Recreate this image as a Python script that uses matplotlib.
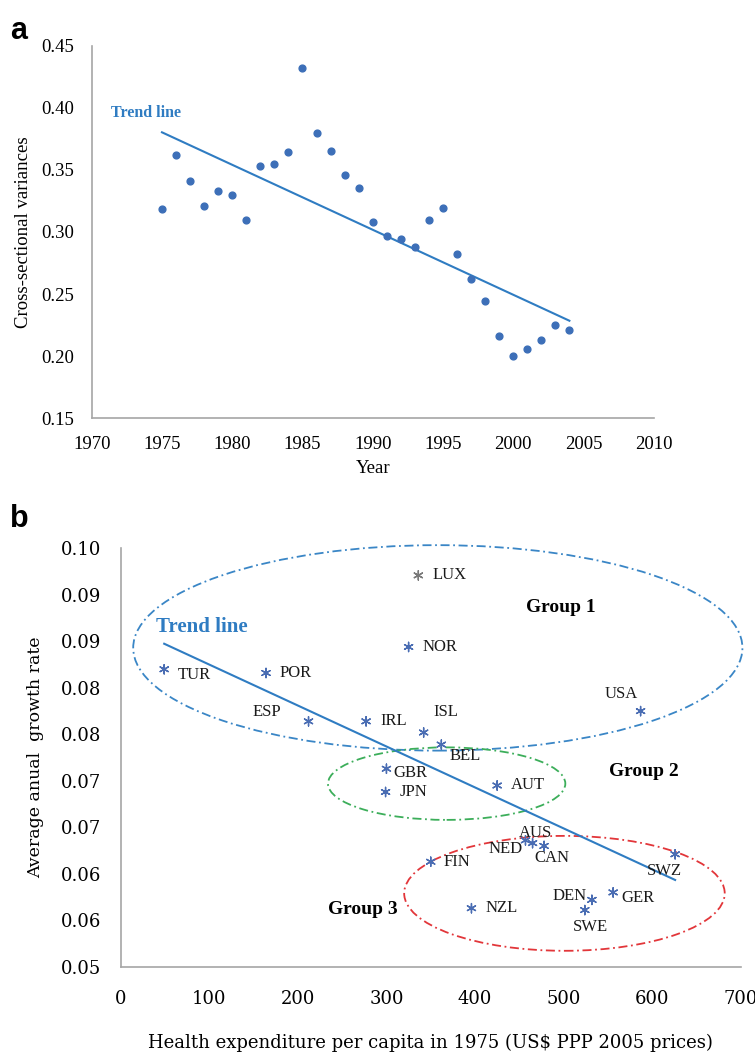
import math
import numpy as np
import matplotlib
matplotlib.use("Agg")
import matplotlib.pyplot as plt
from matplotlib.patches import Ellipse

plt.rcParams["font.family"] = ["Liberation Serif", "DejaVu Serif"]

# ---- panel a: cross-sectional variances by year
years = list(range(1975, 2005))
variances = [0.3185, 0.362, 0.341, 0.321, 0.333, 0.330, 0.310, 0.353, 0.355, 0.364,
             0.432, 0.380, 0.365, 0.346, 0.335, 0.308, 0.297, 0.294, 0.288, 0.310,
             0.319, 0.282, 0.262, 0.2445, 0.216, 0.2005, 0.206, 0.213, 0.225, 0.221]
a_xticks = list(range(1970, 2011, 5))
a_yticks = [0.15, 0.20, 0.25, 0.30, 0.35, 0.40, 0.45]

# ---- panel b: health expenditure 1975 vs average annual growth rate
countries = ["TUR", "POR", "ESP", "IRL", "NOR", "LUX", "ISL", "BEL", "USA", "GBR", "JPN",
             "AUT", "NED", "AUS", "CAN", "FIN", "SWZ", "GER", "DEN", "SWE", "NZL"]
expenditure = [49, 164, 212, 277, 325, 336, 342, 362, 587, 300, 299,
               425, 457, 465, 478, 350, 626, 556, 532, 524, 396]
growth = [0.0870, 0.0866, 0.0814, 0.0814, 0.0894, 0.0971, 0.0802, 0.0789, 0.0825, 0.0763, 0.0738,
          0.0745, 0.0686, 0.0683, 0.0680, 0.0663, 0.0671, 0.0630, 0.0622, 0.0611, 0.0613]
b_xticks = list(range(0, 701, 100))
b_yticks = [0.055, 0.060, 0.065, 0.070, 0.075, 0.080, 0.085, 0.090, 0.095, 0.100]

# label offsets (points) and alignment for each country
label_pos = {
    "TUR": (10, -4, "left"), "POR": (10, 0, "left"), "ESP": (-20, 7, "right"),
    "IRL": (10, 0, "left"), "NOR": (10, 0, "left"), "LUX": (10, 0, "left"),
    "ISL": (16, 15, "center"), "BEL": (6, -8, "left"), "USA": (-14, 12, "center"),
    "GBR": (5, -3, "left"), "JPN": (10, 0, "left"), "AUT": (10, 0, "left"),
    "NED": (-2, -6, "right"), "AUS": (2, 7, "center"), "CAN": (-7, -9, "left"),
    "FIN": (9, 0, "left"), "SWZ": (-8, -12, "center"), "GER": (6, -4, "left"),
    "DEN": (-4, 3, "right"), "SWE": (4, -12, "center"), "NZL": (10, 0, "left"),
}

groups = ["Group 1", "Group 2", "Group 3"]
group_centers = [(358, 0.0893), (368, 0.0747), (501, 0.0629)]
group_sizes = [(688, 0.0221), (268, 0.0078), (362, 0.01236)]
group_colors = ["#3a86c6", "#3cae5a", "#e2363a"]
group_text = [(497, 0.0936), (591, 0.0760), (273, 0.0612)]

blue = "#2f7cc2"
axis_gray = "#a6a6a6"
times = "Liberation Serif"
wide_serif = "DejaVu Serif"

fig = plt.figure(figsize=(7.55, 10.52), dpi=100)

# ================= panel a
ax1 = fig.add_axes([0.1215, 0.6024, 0.7443, 0.3542])
ax1.scatter(years, variances, s=24, color="#3d6fb8", zorder=3)
k, b = np.polyfit(years, variances, 1)
xs = np.array([years[0], years[-1]])
ax1.plot(xs, k * xs + b, color=blue, lw=1.5)
ax1.text(1971.4, 0.3955, "Trend line", color=blue, fontsize=11.5, fontweight="bold",
         va="center", ha="left")
ax1.set_xlim(1970, 2010)
ax1.set_ylim(0.15, 0.45)
ax1.set_xticks(a_xticks, [str(t) for t in a_xticks], fontsize=13.5, fontfamily=times)
ax1.set_yticks(a_yticks, [f"{t:.2f}" for t in a_yticks], fontsize=13.5, fontfamily=times)
ax1.tick_params(length=0, pad=13)
ax1.set_xlabel("Year", fontsize=13.5, labelpad=5)
ax1.set_ylabel("Cross-sectional variances", fontsize=13.5, labelpad=6)
for s in ["top", "right"]:
    ax1.spines[s].set_visible(False)
for s in ["left", "bottom"]:
    ax1.spines[s].set_color(axis_gray)
    ax1.spines[s].set_linewidth(1.2)

# ================= panel b
ax2 = fig.add_axes([0.1600, 0.0810, 0.8210, 0.3977])
for c, (w, h), col in zip(group_centers, group_sizes, group_colors):
    ax2.add_patch(Ellipse(c, w, h, fill=False, edgecolor=col, lw=1.3,
                          linestyle=(0, (5, 2, 1, 2)), clip_on=False))
for g, (gx, gy) in zip(groups, group_text):
    ax2.text(gx, gy, g, fontsize=14, fontweight="bold", ha="center", va="center")

mcol = ["#7a7a7a" if c == "LUX" else "#4a6db3" for c in countries]
ax2.scatter(expenditure, growth, marker=(6, 2, 0), s=45, c=mcol, linewidths=1.0, zorder=3)
k2, b2 = np.polyfit(expenditure, growth, 1)
xs2 = np.array([min(expenditure), max(expenditure)])
ax2.plot(xs2, k2 * xs2 + b2, color=blue, lw=1.5)
ax2.text(39.5, 0.0916, "Trend line", color=blue, fontsize=15, fontweight="bold",
         va="center", ha="left")

for c, x, y in zip(countries, expenditure, growth):
    dx, dy, ha = label_pos[c]
    ax2.annotate(c, (x, y), xytext=(dx, dy), textcoords="offset points",
                 ha=ha, va="center", fontsize=12, color="#1a1a1a")

ax2.set_xlim(0, 700)
ax2.set_ylim(0.055, 0.100)
# Excel-style labels: two decimals, truncated
ax2.set_xticks(b_xticks, [str(t) for t in b_xticks], fontsize=13, fontfamily=wide_serif)
ax2.set_yticks(b_yticks, [f"{math.floor(t * 100 + 1e-6) / 100:.2f}" for t in b_yticks],
               fontsize=13, fontfamily=wide_serif)
ax2.tick_params(length=0, pad=14)
ax2.tick_params(axis="x", pad=17)
ax2.set_xlabel("Health expenditure per capita in 1975 (US$ PPP 2005 prices)", fontsize=13,
               labelpad=18, fontfamily=wide_serif)
ax2.set_ylabel("Average anual  growth rate", fontsize=12.5, labelpad=12, fontfamily=wide_serif)
for s in ["top", "right"]:
    ax2.spines[s].set_visible(False)
for s in ["left", "bottom"]:
    ax2.spines[s].set_color(axis_gray)
    ax2.spines[s].set_linewidth(1.2)

fig.text(0.013, 0.971, "a", fontsize=22, fontweight="bold", family="Liberation Sans", va="center")
fig.text(0.013, 0.507, "b", fontsize=22, fontweight="bold", family="Liberation Sans", va="center")

fig.savefig("out.png", dpi=100)
